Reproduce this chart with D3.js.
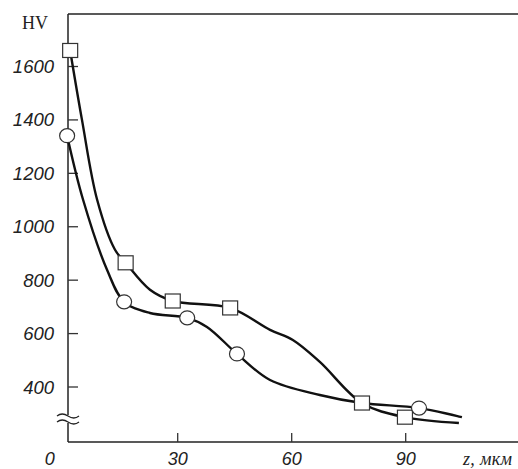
<!DOCTYPE html>
<html>
<head>
<meta charset="utf-8">
<script src="https://cdn.jsdelivr.net/npm/d3@7"></script>
<style>
  body { margin: 0; background: #fff; }
  svg { display: block; }
</style>
</head>
<body>
<svg id="canvas" width="518" height="469"></svg>
<script>
// markers
const squareZ = [1.7, 16.3, 28.7, 43.8, 78.5, 89.8]
const squareHV = [1660, 865, 722, 696, 340, 287]
const circleZ = [0.9, 15.9, 32.5, 45.6, 93.5]
const circleHV = [1341, 719, 659, 524, 321]

// fitted curves
const squareCurveZ = [1.7, 4.8, 8.8, 13.5, 16.3, 22.7, 28.7, 43.8, 54.3, 60.3, 67.4, 78.5, 89.8, 104]
const squareCurveHV = [1660, 1401, 1101, 914, 865, 764, 722, 696, 614, 576, 494, 340, 287, 265]
const circleCurveZ = [0.9, 5.1, 11.4, 15.9, 22.7, 32.5, 37.7, 45.6, 54.3, 67.4, 78.5, 93.5, 104.8]
const circleCurveHV = [1341, 1101, 839, 719, 677, 659, 625, 524, 426, 370, 340, 321, 287]

const xTicks = [30, 60, 90]
const xLabels = [0, 30, 60, 90]
const yTicks = [400, 600, 800, 1000, 1200, 1400, 1600]

let canvas = d3.select('#canvas')

let x = d3.scaleLinear().domain([0, 30]).range([63.7, 177.7])
let y = d3.scaleLinear().domain([400, 1600]).range([387, 66.5])

const axisX = 68
const axisY = 442
const topY = 14

// frame lines
canvas.append('line')
  .attr('x1', axisX).attr('x2', 518).attr('y1', topY).attr('y2', topY)
  .attr('stroke', '#222').attr('stroke-width', 1.5)
canvas.append('line')
  .attr('x1', axisX).attr('x2', 518).attr('y1', axisY).attr('y2', axisY)
  .attr('stroke', '#222').attr('stroke-width', 1.5)
canvas.append('line')
  .attr('x1', axisX).attr('x2', axisX).attr('y1', topY).attr('y2', axisY)
  .attr('stroke', '#222').attr('stroke-width', 1.5)

// axis break
canvas.append('rect').attr('x', 62).attr('y', 415).attr('width', 12).attr('height', 8).attr('fill', '#fff')
let breakY = [416, 422]
breakY.forEach((by)=>{
  canvas.append('path')
    .attr('d', `M57,${by} q5,-4 11,0 t11,0`)
    .attr('fill', 'none').attr('stroke', '#222').attr('stroke-width', 1.3)
})

// y ticks
canvas.selectAll('.ytick')
  .data(yTicks)
  .enter()
  .append('line')
  .attr('class', 'ytick')
  .attr('x1', axisX).attr('x2', axisX + 10)
  .attr('y1', d => y(d)).attr('y2', d => y(d))
  .attr('stroke', '#333').attr('stroke-width', 1.3)

canvas.selectAll('.ylab')
  .data(yTicks)
  .enter()
  .append('text')
  .attr('class', 'ylab')
  .attr('x', 54)
  .attr('y', d => y(d) + 6.5)
  .attr('text-anchor', 'end')
  .attr('font-family', 'Liberation Sans, Arial, sans-serif')
  .attr('font-style', 'italic')
  .attr('font-size', 18.5)
  .attr('fill', '#222')
  .text(d => d)

// x ticks
canvas.selectAll('.xtick')
  .data(xTicks)
  .enter()
  .append('line')
  .attr('class', 'xtick')
  .attr('x1', d => x(d)).attr('x2', d => x(d))
  .attr('y1', axisY).attr('y2', axisY - 9)
  .attr('stroke', '#333').attr('stroke-width', 1.3)

canvas.selectAll('.xlab')
  .data(xLabels)
  .enter()
  .append('text')
  .attr('class', 'xlab')
  .attr('x', d => d === 0 ? x(d) - 14 : x(d))
  .attr('y', 465)
  .attr('text-anchor', 'middle')
  .attr('font-family', 'Liberation Sans, Arial, sans-serif')
  .attr('font-style', 'italic')
  .attr('font-size', 18)
  .attr('fill', '#222')
  .text(d => d)

canvas.append('text')
  .attr('x', 22).attr('y', 29)
  .attr('font-family', 'Liberation Serif, Times New Roman, serif')
  .attr('font-size', 18)
  .attr('fill', '#222')
  .text('HV')

canvas.append('text')
  .attr('x', 463).attr('y', 465)
  .attr('font-family', 'Liberation Serif, Times New Roman, serif')
  .attr('font-style', 'italic')
  .attr('font-size', 18)
  .attr('letter-spacing', 0.3)
  .attr('fill', '#222')
  .text('z, мкм')

// curves
let line = d3.line()
  .x(d => x(d[0]))
  .y(d => y(d[1]))
  .curve(d3.curveCatmullRom.alpha(0.5))

let squareCurve = squareCurveZ.map((z, i) => [z, squareCurveHV[i]])
let circleCurve = circleCurveZ.map((z, i) => [z, circleCurveHV[i]])

canvas.selectAll('.curve')
  .data([squareCurve, circleCurve])
  .enter()
  .append('path')
  .attr('class', 'curve')
  .attr('d', line)
  .attr('fill', 'none')
  .attr('stroke', '#111')
  .attr('stroke-width', 2.4)

// markers
canvas.selectAll('.sq')
  .data(squareZ.map((z, i) => [z, squareHV[i]]))
  .enter()
  .append('rect')
  .attr('class', 'sq')
  .attr('x', d => x(d[0]) - 7.5)
  .attr('y', d => y(d[1]) - 7)
  .attr('width', 15).attr('height', 14)
  .attr('fill', '#fff').attr('stroke', '#333').attr('stroke-width', 1.2)

canvas.selectAll('.circ')
  .data(circleZ.map((z, i) => [z, circleHV[i]]))
  .enter()
  .append('ellipse')
  .attr('class', 'circ')
  .attr('cx', d => x(d[0]))
  .attr('cy', d => y(d[1]))
  .attr('rx', 7.5).attr('ry', 7)
  .attr('fill', '#fff').attr('stroke', '#333').attr('stroke-width', 1.2)
</script>
</body>
</html>
